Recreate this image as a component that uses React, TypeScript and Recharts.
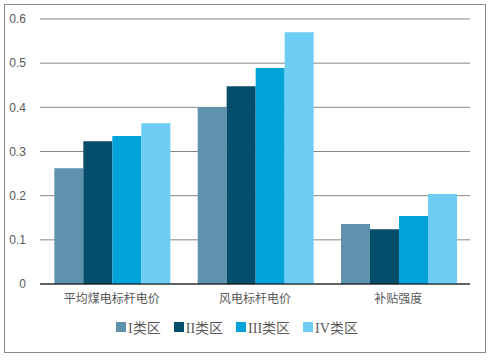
import React from "react";
import { BarChart, Bar, XAxis, YAxis, CartesianGrid, Legend } from "recharts";

const categories = ["平均煤电标杆电价", "风电标杆电价", "补贴强度"];
const seriesNames = ["I类区", "II类区", "III类区", "IV类区"];
const zone1 = [0.262, 0.4, 0.136];
const zone2 = [0.323, 0.448, 0.124];
const zone3 = [0.335, 0.489, 0.154];
const zone4 = [0.364, 0.57, 0.204];
const yTicks = [0, 0.1, 0.2, 0.3, 0.4, 0.5, 0.6];

const COLORS = ["#5F92AC", "#044E6C", "#00A2DA", "#6DCDF4"];
const KEYS = ["z1", "z2", "z3", "z4"];

const data = categories.map((name, i) => ({
  name,
  z1: zone1[i],
  z2: zone2[i],
  z3: zone3[i],
  z4: zone4[i],
}));

const renderLegend = () => (
  <div
    style={{
      display: "flex",
      justifyContent: "center",
      alignItems: "center",
      fontSize: 14,
      color: "#595959",
      fontFamily: "'Liberation Serif', 'Noto Sans CJK SC', serif",
      paddingLeft: 4,
    }}
  >
    {seriesNames.map((n, i) => (
      <div
        key={n}
        style={{ display: "flex", alignItems: "center", marginRight: i < 3 ? 13 : 0 }}
      >
        <span
          style={{
            display: "inline-block",
            width: 10,
            height: 10,
            background: COLORS[i],
            marginRight: 2,
          }}
        />
        <span>{n}</span>
      </div>
    ))}
  </div>
);

export default function App() {
  return (
    <div style={{ position: "absolute", left: 0, top: 0, width: 489, height: 361, background: "#fff" }}>
      <div
        style={{
          position: "absolute",
          left: 4,
          top: 4,
          width: 480,
          height: 347,
          border: "1px solid #8a8a8a",
        }}
      />
      <div style={{ position: "absolute", left: 0, top: 0 }}>
        <BarChart
          width={489}
          height={361}
          data={data}
          margin={{ top: 19, right: 19, left: 0, bottom: 18 }}
          barCategoryGap="10%"
          barGap={0}
        >
          <CartesianGrid vertical={false} stroke="#868686" strokeWidth={1} />
          <XAxis
            dataKey="name"
            tickLine={false}
            axisLine={{ stroke: "#000" }}
            height={33}
            tickMargin={4}
            tick={{ fontSize: 12, fill: "#595959", fontFamily: "'Noto Sans CJK SC', sans-serif" }}
          />
          <YAxis
            width={40}
            domain={[0, 0.6]}
            ticks={yTicks}
            tickLine={false}
            axisLine={false}
            tickMargin={8}
            tick={{ fontSize: 12, fill: "#595959", fontFamily: "'Liberation Sans', Arial, sans-serif" }}
          />
          <Legend verticalAlign="bottom" height={26} content={renderLegend} />
          {KEYS.map((k, i) => (
            <Bar key={k} dataKey={k} name={seriesNames[i]} fill={COLORS[i]} isAnimationActive={false} />
          ))}
        </BarChart>
      </div>
    </div>
  );
}
